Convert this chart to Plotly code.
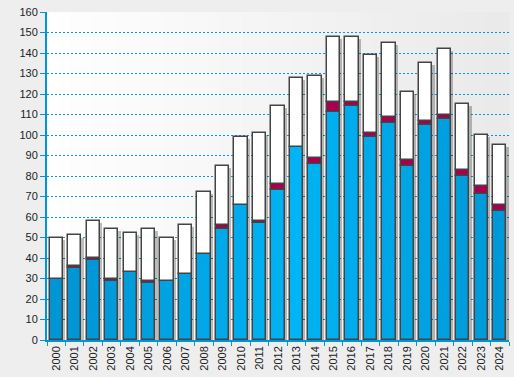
import plotly.graph_objects as go

years = [str(y) for y in range(2000, 2025)]
blue = [30, 35, 39, 29, 33, 28, 29, 32, 42, 54, 66, 57, 73, 94, 86, 111, 114, 99, 106, 85, 105, 108, 80, 71, 63]
maroon = [0, 1, 1, 1, 0, 1, 0, 0, 0, 2, 0, 1, 3, 0, 3, 5, 2, 2, 3, 3, 2, 2, 3, 4, 3]
total = [50, 51, 58, 54, 52, 54, 50, 56, 72, 85, 99, 101, 114, 128, 129, 148, 148, 139, 145, 121, 135, 142, 115, 100, 95]
y_ticks = list(range(0, 161, 10))

white = [t - b - m for t, b, m in zip(total, blue, maroon)]
base_m = blue
base_w = [b + m for b, m in zip(blue, maroon)]


# per-bar blue shades (lighter in middle, darker at edges)
def shade(i):
    c = max(0.0, 1 - abs((i - 13) / 12.0))
    g = int(150 + (180 - 150) * c)
    b = int(214 + (245 - 214) * c)
    return f"rgb(0,{g},{b})"


blue_colors = [shade(i) for i in range(len(years))]

W = 0.72
line = dict(color="#444444", width=1.5)

fig = go.Figure()
# shadow
fig.add_trace(go.Bar(x=years, y=[t - 1 for t in total], base=0, width=W, offset=-W / 2 + 0.12,
                     marker=dict(color="rgba(0,0,0,0.25)", line=dict(width=0)),
                     hoverinfo="skip", showlegend=False))
fig.add_trace(go.Bar(x=years, y=blue, base=0, width=W, offset=-W / 2,
                     marker=dict(color=blue_colors, line=line), showlegend=False))
fig.add_trace(go.Bar(x=years, y=maroon, base=base_m, width=W, offset=-W / 2,
                     marker=dict(color="#a6004f", line=line), showlegend=False))
fig.add_trace(go.Bar(x=years, y=white, base=base_w, width=W, offset=-W / 2,
                     marker=dict(color="#ffffff", line=line), showlegend=False))

# plot-area gradient background
n = 40
shapes = []
for i in range(n):
    f = i / (n - 1)
    v = int(255 - (255 - 234) * f)
    shapes.append(dict(type="rect", xref="paper", yref="paper", x0=i / n, x1=(i + 1) / n + 0.001,
                       y0=0, y1=1, fillcolor=f"rgb({v},{v},{v})", line=dict(width=0), layer="below"))

fig.update_layout(
    width=514, height=377,
    margin=dict(l=47, r=5, t=12, b=37, autoexpand=False),
    paper_bgcolor="#eeeeee",
    plot_bgcolor="rgba(0,0,0,0)",
    barmode="overlay",
    shapes=shapes,
    font=dict(family="Liberation Sans, Arial, sans-serif", size=11, color="#222222"),
    xaxis=dict(type="category", range=[-0.5, 24.5], tickangle=-90, showgrid=False,
               showline=True, linecolor="#0095d8", linewidth=1.5,
               ticks="outside", ticklen=4, tickcolor="#0095d8", tickson="boundaries",
               tickfont=dict(size=11), automargin=False),
    yaxis=dict(range=[0, 160], tickvals=y_ticks, showgrid=True, gridcolor="#0099dd",
               griddash="2px,2px", gridwidth=1, zeroline=False,
               showline=True, linecolor="#0095d8", linewidth=2,
               ticks="outside", ticklen=5, tickcolor="#0095d8", tickfont=dict(size=11),
               automargin=False),
    bargap=0,
)

fig.write_html("out.html",
               config={"displayModeBar": False},
               post_script="document.body.style.margin='0';document.body.style.overflow='hidden';"
                           "document.body.style.background='#eeeeee';")
